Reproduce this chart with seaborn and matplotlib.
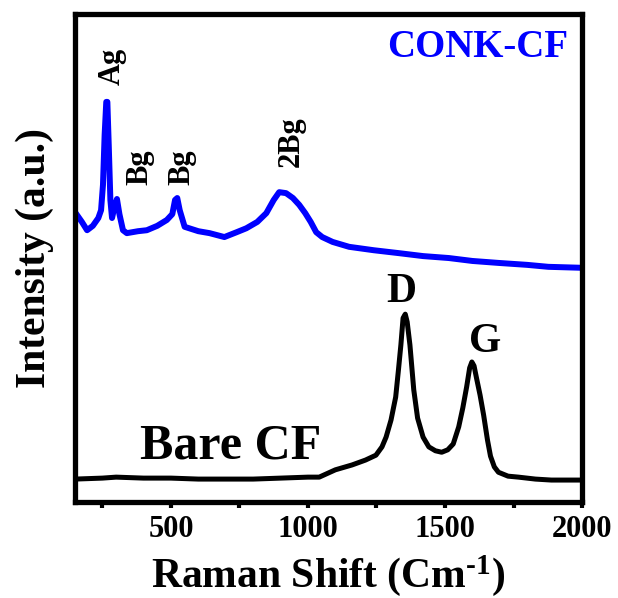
import numpy as np
import pandas as pd
import matplotlib
matplotlib.use("Agg")
import matplotlib.pyplot as plt
import seaborn as sns
from matplotlib.ticker import MultipleLocator, NullLocator

# Raman shift (cm^-1) and intensity (a.u.)
conk_x = [150, 175, 194, 215, 235, 245, 252, 258, 264, 268, 273, 279, 285, 294,
          303, 312, 325, 339, 380, 412, 450, 485, 505, 515, 523, 532, 550, 600,
          641, 695, 740, 775, 815, 848, 875, 895, 920, 945, 968, 990, 1010,
          1030, 1052, 1090, 1150, 1240, 1332, 1420, 1514, 1600, 1695, 1800,
          1877, 2000]
conk_y = [59.4, 57.4, 55.7, 56.6, 58.2, 59.8, 65.0, 75.2, 82.0, 82.0, 73.2,
          61.9, 58.2, 60.5, 62.1, 59.0, 55.7, 55.1, 55.5, 55.7, 56.6, 57.8,
          59.0, 61.9, 62.3, 59.8, 56.4, 55.5, 55.1, 54.3, 55.3, 56.1, 57.4,
          59.2, 61.9, 63.5, 63.3, 62.3, 60.9, 59.2, 57.4, 55.3, 54.3, 53.3,
          52.3, 51.6, 51.0, 50.4, 50.0, 49.4, 49.0, 48.6, 48.2, 48.0]

bare_x = [150, 250, 300, 400, 500, 600, 700, 800, 900, 1000, 1041, 1100, 1161,
          1210, 1248, 1270, 1285, 1303, 1320, 1330, 1339, 1347, 1355, 1362,
          1372, 1386, 1400, 1420, 1441, 1465, 1488, 1510, 1530, 1550, 1565,
          1579, 1590, 1598, 1606, 1615, 1628, 1641, 1655, 1666, 1680, 1695,
          1730, 1768, 1830, 1888, 2000]
bare_y = [4.7, 4.9, 5.1, 4.9, 4.9, 4.7, 4.7, 4.7, 4.9, 5.1, 5.1, 6.6, 7.6,
          8.6, 9.6, 11.3, 13.3, 16.8, 21.5, 27.0, 32.2, 37.7, 38.5, 36.9,
          32.2, 23.0, 17.2, 13.3, 11.3, 10.5, 10.2, 10.7, 11.9, 15.4, 19.3,
          23.6, 27.5, 28.7, 27.9, 25.4, 21.9, 17.8, 12.7, 9.4, 7.2, 6.1, 5.3,
          5.1, 4.7, 4.5, 4.5]

x_ticks = [500, 1000, 1500, 2000]
peak_labels = ["Ag", "Bg", "Bg", "2Bg"]
peak_label_x = [285, 386, 539, 939]
peak_label_y = [85.5, 65.0, 65.0, 68.6]

sns.set_style("ticks")
plt.rcParams["font.family"] = ["Liberation Serif", "DejaVu Serif"]
plt.rcParams["font.weight"] = "bold"
plt.rcParams["text.color"] = "black"
plt.rcParams["axes.labelcolor"] = "black"
plt.rcParams["xtick.color"] = "black"
plt.rcParams["xtick.labelcolor"] = "black"
plt.rcParams["mathtext.fontset"] = "custom"
plt.rcParams["mathtext.rm"] = "Liberation Serif:bold"
plt.rcParams["mathtext.bf"] = "Liberation Serif:bold"
plt.rcParams["mathtext.default"] = "bf"

fig = plt.figure(figsize=(6.18, 5.98), dpi=100)
ax = fig.add_axes([0.1214, 0.1605, 0.8204, 0.816])

df_conk = pd.DataFrame({"shift": conk_x, "intensity": conk_y})
df_bare = pd.DataFrame({"shift": bare_x, "intensity": bare_y})
sns.lineplot(data=df_conk, x="shift", y="intensity", color="#0000ff",
             linewidth=4.3, ax=ax)
sns.lineplot(data=df_bare, x="shift", y="intensity", color="black",
             linewidth=3.6, ax=ax)

ax.set_xlim(150, 2000)
ax.set_ylim(0, 100)
ax.set_xticks(x_ticks)
ax.set_xticklabels([str(t) for t in x_ticks])
ax.xaxis.set_minor_locator(MultipleLocator(250))
ax.yaxis.set_major_locator(NullLocator())
ax.tick_params(axis="x", which="both", direction="out", length=4, width=3,
               labelsize=22, pad=5, color="black", labelcolor="black")
for lab in ax.get_xticklabels():
    lab.set_fontweight("bold")

for s in ax.spines.values():
    s.set_linewidth(3.8)
    s.set_color("black")
    s.set_visible(True)

ax.set_xlabel(r"Raman Shift (Cm$^{\text{-}1}$)", fontsize=30,
              fontweight="bold", labelpad=7, color="black")
ax.set_ylabel("Intensity (a.u.)", fontsize=30, fontweight="bold",
              labelpad=15, color="black")

for lab, lx, ly in zip(peak_labels, peak_label_x, peak_label_y):
    ax.text(lx, ly, lab, rotation=90, ha="center", va="bottom",
            fontsize=22, fontweight="bold", color="black")

ax.text(1950, 91.2, "CONK-CF", color="#0000ff", ha="right", va="baseline",
        fontsize=28, fontweight="bold")
ax.text(386, 9.0, "Bare CF", color="black", ha="left", va="baseline",
        fontsize=36, fontweight="bold")
ax.text(1339, 41.0, "D", ha="center", va="baseline", fontsize=30,
        fontweight="bold", color="black")
ax.text(1648, 30.7, "G", ha="center", va="baseline", fontsize=30,
        fontweight="bold", color="black")

fig.savefig("out.png", dpi=100)
